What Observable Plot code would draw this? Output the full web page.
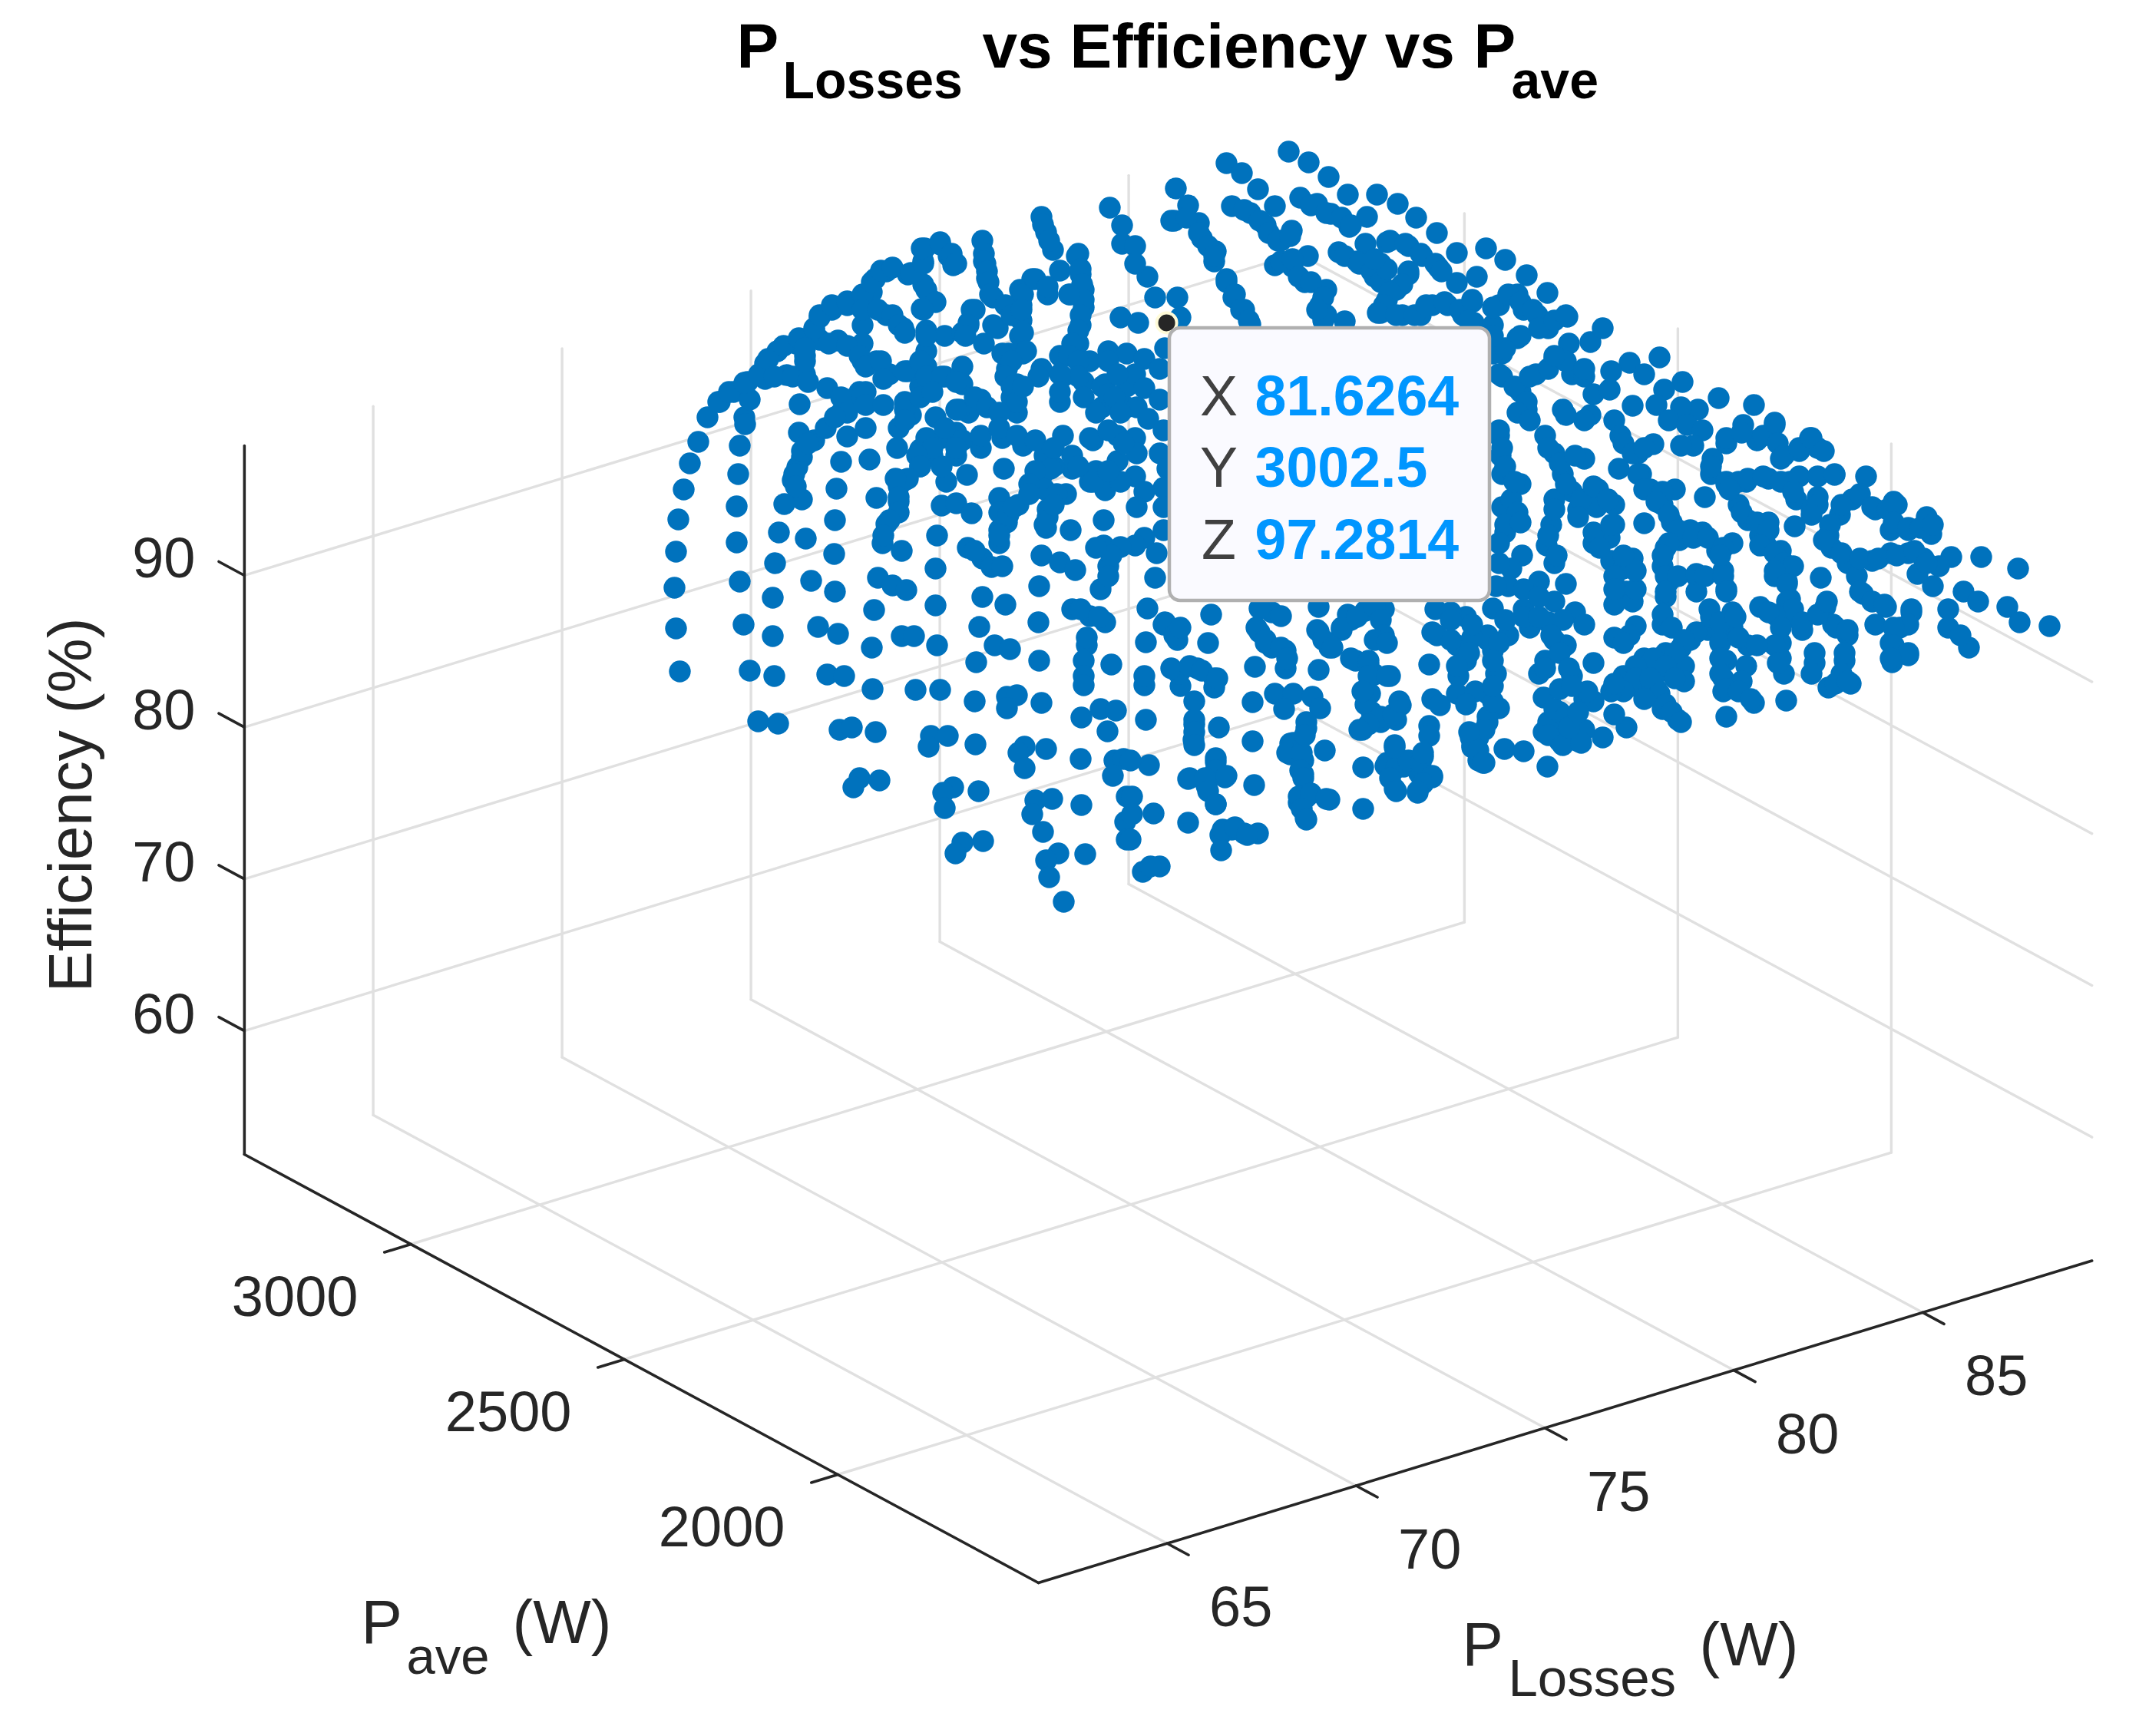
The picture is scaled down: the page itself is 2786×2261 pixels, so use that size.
<!DOCTYPE html>
<html><head><meta charset="utf-8">
<style>html,body{margin:0;padding:0;background:#fff}svg{display:block}</style>
<script src="https://cdn.jsdelivr.net/npm/d3@7"></script>
<script src="https://cdn.jsdelivr.net/npm/@observablehq/plot@0.6"></script>
</head><body><div id="chart"></div>
<script>
// Axis ranges and ticks of the 3-D box
const lossRange=[61.59,89.48], aveRange=[1530,3390], effRange=[51.86,98.55];
const lossTicks=[65,70,75,80,85], aveTicks=[2000,2500,3000], effTicks=[60,70,80,90];
// The selected sample of the data tip
const tipLoss=81.6264, tipAve=3002.5, tipEff=97.2814;
// Samples as read in the view plane of the 3-D box (horizontal, vertical)
const viewNorthWest=[[1445,270],[1461,293],[1461,317],[1356,282],[1362,302],[1371,325],[1402,333],[1380,352],[1407,357],[1394,383],[1411,377],[1411,400],[1407,423],[1279,313],[1281,330],[1283,343],[1285,362],[1224,318],[1204,323],[1235,333],[1241,345],[1202,340],[1154,353],[1182,357],[1139,363],[1202,370],[1212,390],[1200,402],[1135,380],[1103,397],[1083,403],[1067,413],[1060,430],[1127,400],[1123,423],[1154,410],[1176,427],[1123,447],[1091,443],[1067,442],[1036,447],[1012,457],[996,473],[1048,463],[1048,487],[1123,470],[1141,470],[1024,488],[996,493],[973,497],[955,510],[937,523],[921,543],[1077,505],[1041,526],[969,543],[976,520],[1344,363],[1328,377],[1364,383],[1330,397],[1330,417],[1293,387],[1269,403],[1261,420],[1299,427],[1328,437],[1332,460],[1206,430],[1230,437],[1253,433],[1281,447],[1313,460],[1206,457],[1253,477],[1206,477],[1182,483],[1158,487],[1311,480],[1253,500],[1230,490],[1198,503],[1119,510],[1103,520],[1095,537],[1178,523],[1186,540],[1404,447],[1443,457],[1419,470],[1380,463],[1356,480],[1324,500],[1317,517],[1324,537],[1277,520],[1261,537],[1249,533],[1218,543],[1384,490],[1411,497],[1439,500],[1435,530],[1380,523],[1467,503],[1467,460],[1459,413],[1467,530]];
const viewNorth=[[1678,197],[1704,211],[1730,230],[1755,253],[1793,253],[1820,265],[1844,283],[1871,303],[1597,212],[1617,225],[1638,246],[1531,245],[1547,267],[1525,287],[1561,290],[1565,310],[1583,327],[1581,340],[1604,268],[1628,277],[1660,268],[1648,293],[1682,300],[1668,313],[1693,257],[1715,265],[1733,278],[1757,295],[1780,282],[1778,317],[1806,315],[1743,328],[1767,340],[1834,320],[1852,333],[1873,348],[1897,329],[1798,343],[1834,357],[1790,360],[1897,368],[1923,360],[1935,323],[1960,338],[1988,358],[2015,381],[1976,383],[1952,397],[1984,403],[2002,410],[2041,412],[2016,427],[2043,447],[2071,445],[2087,427],[1660,345],[1703,333],[1683,347],[1699,367],[1727,377],[1719,397],[1723,417],[1751,418],[1597,363],[1606,387],[1620,403],[1628,422],[1818,377],[1806,390],[1798,407],[1826,410],[1850,410],[1865,397],[1885,397],[1917,393],[1905,410],[1919,420],[1944,423],[1976,440],[1956,460],[1956,490],[1980,510],[1988,533],[2024,467],[2047,487],[2063,490],[2000,487],[2075,513],[2035,533],[2071,540],[1482,420],[1504,387],[1533,387],[1537,413],[1478,320],[1494,360],[1517,453],[1478,343],[1490,467],[1478,487],[1510,480],[1490,505],[1510,520],[1480,530],[1495,545],[1515,560],[1478,570],[1480,590],[1510,590],[1520,610],[1478,620],[1515,635],[1490,640],[1515,660],[1480,660],[1515,690],[1490,700],[1478,710]];
const viewWest=[[909,575],[898,603],[890,637],[883,676],[880,718],[878,765],[880,818],[885,874],[970,552],[963,580],[961,617],[959,659],[959,706],[963,757],[968,813],[976,873],[1040,563],[1060,573],[1044,595],[1038,608],[1032,625],[1044,650],[1021,656],[1014,693],[1049,701],[1009,733],[1056,756],[1006,778],[1006,828],[1065,816],[1091,825],[1008,880],[1077,878],[1099,880],[1103,568],[1095,601],[1089,636],[1087,677],[1086,721],[1087,770],[1132,598],[1141,648],[1127,557],[1075,557],[1143,752],[1162,762],[1180,768],[1138,794],[1135,843],[1174,828],[1190,828],[1220,840],[1149,707],[1174,717],[1154,682],[1170,653],[1170,633],[1178,625],[1198,585],[1168,583],[1170,557],[1198,607],[1220,697],[1218,740],[1218,788],[1226,658],[1245,655],[1265,668],[1232,627],[1259,618],[1260,713],[1279,727],[1291,738],[1305,737],[1279,777],[1309,787],[1275,816],[1353,763],[1352,810],[1295,840],[1315,845],[1271,862],[1353,860],[1301,648],[1326,657],[1307,610],[1311,680],[1301,707],[1301,690],[1364,663],[1362,687],[1372,650],[1394,690],[1356,723],[1380,732],[1400,742],[1437,677],[1443,737],[1433,767],[1437,710],[1459,712],[1396,793],[1419,802],[1439,810],[1415,840],[1411,860],[1447,865],[1411,880],[1206,583],[1226,570],[1245,563],[1277,583],[1305,570],[1332,580],[1360,593],[1356,620],[1388,643],[1384,567],[1423,573],[1455,567],[1419,627],[1439,638],[1396,610],[1427,613],[1459,627],[1372,607],[1214,593],[1245,593],[1226,607],[1455,600]];
const viewSouthWest=[[1136,897],[1192,898],[1224,898],[1269,913],[1311,907],[1324,905],[1311,922],[1356,915],[1411,892],[1408,934],[1433,923],[1453,925],[1442,952],[987,939],[1013,942],[1093,950],[1109,947],[1140,953],[1212,958],[1234,958],[1209,972],[1270,969],[1334,972],[1362,975],[1326,980],[1334,1000],[1407,988],[1451,990],[1463,988],[1449,1010],[1119,1013],[1145,1016],[1111,1025],[1241,1025],[1228,1032],[1230,1052],[1274,1030],[1348,1042],[1370,1040],[1344,1060],[1408,1048],[1358,1083],[1253,1097],[1280,1095],[1244,1111],[1378,1111],[1362,1120],[1366,1142],[1413,1112],[1385,1174],[1467,1037],[1465,1070],[1467,1093]];
const viewSouth=[[1490,892],[1537,893],[1581,895],[1555,913],[1631,914],[1660,903],[1684,903],[1672,923],[1709,907],[1719,922],[1492,937],[1555,943],[1554,963],[1587,947],[1631,965],[1701,948],[1680,968],[1680,982],[1697,990],[1697,1008],[1725,977],[1784,903],[1824,918],[1786,927],[1774,950],[1798,940],[1818,937],[1865,910],[1875,918],[1861,945],[1861,958],[1909,910],[1937,903],[1952,922],[1937,940],[1925,960],[1915,960],[1925,990],[1933,993],[1917,973],[1816,970],[1804,997],[1828,998],[1775,999],[1853,985],[1865,1012],[1848,1007],[1816,1027],[1846,1032],[1775,1053],[1959,975],[1984,978],[2015,998],[2010,908],[2031,927],[2010,953],[2031,965],[2055,965],[2039,950],[2063,910],[2087,960],[2051,950],[1496,996],[1472,990],[1583,992],[1547,1014],[1571,1023],[1595,1012],[1583,1047],[1633,1022],[1701,1038],[1691,1045],[1731,1041],[1700,1065],[1502,1059],[1474,1037],[1474,1060],[1472,1093],[1547,1071],[1589,1087],[1604,1080],[1638,1085],[1590,1107],[1620,1085],[1488,1135],[1510,1128],[1498,1128]];
const viewCentre=[[1494,792],[1529,820],[1515,813],[1533,833],[1492,836],[1573,837],[1504,752],[1506,720],[1577,800],[1656,797],[1640,792],[1668,802],[1717,790],[1759,807],[1747,820],[1778,795],[1802,793],[1800,833],[1640,823],[1648,837],[1674,847],[1656,843],[1634,868],[1674,870],[1717,822],[1731,843],[1717,872],[1765,860],[1782,865],[1810,880],[1861,865],[1790,878],[1490,880],[1535,877],[1559,870],[1581,883],[1869,793],[1909,803],[1944,792],[1889,797],[1871,827],[1897,840],[1937,833],[1964,827],[1909,860],[1944,847],[1948,877],[1899,880],[1992,817],[2004,757],[1984,793],[2024,783],[2051,797],[2016,810],[2024,833],[2039,840],[2012,860],[2004,877],[2047,880],[2075,863],[1982,723],[1968,740],[1952,733],[1964,763],[1948,763],[1952,567],[1954,593],[1956,617],[1980,630],[1956,660],[1976,677],[1960,693],[2012,567],[2024,590],[2063,597],[2035,617],[2047,640],[2024,650],[2020,683],[2014,710],[2024,733],[2055,663],[2081,637],[2079,660],[2075,707],[2039,760]];
const viewEast=[[2161,465],[2122,472],[2141,487],[2098,483],[2096,507],[2191,497],[2167,507],[2157,527],[2238,518],[2211,533],[2189,530],[2173,547],[2284,527],[2126,528],[2102,547],[2110,567],[2197,553],[2217,560],[2205,580],[2189,580],[2153,578],[2133,590],[2108,610],[2137,617],[2149,637],[2181,637],[2165,657],[2177,680],[2141,681],[2270,553],[2311,553],[2248,577],[2288,573],[2230,597],[2228,617],[2319,597],[2343,587],[2357,570],[2367,583],[2389,618],[2430,620],[2303,623],[2331,627],[2274,627],[2248,630],[2220,647],[2339,650],[2367,647],[2359,663],[2412,650],[2396,670],[2466,653],[2442,663],[2337,685],[2264,657],[2276,677],[2303,680],[2292,697],[2300,710],[2381,697],[2385,713],[2406,733],[2462,690],[2485,690],[2509,673],[2515,695],[2485,720],[2438,730],[2462,720],[2505,727],[2541,725],[2525,737],[2580,725],[2628,740],[2517,763],[2497,747],[2418,750],[2426,773],[2456,790],[2489,797],[2442,813],[2474,817],[2462,837],[2485,853],[2464,862],[2557,770],[2576,783],[2537,793],[2537,817],[2564,843],[2553,827],[2614,790],[2630,810],[2669,815],[2327,737],[2319,717],[2311,750],[2371,752],[2331,780],[2327,757],[2292,790],[2335,803],[2315,803],[2377,790],[2387,813],[2406,827],[2347,820],[2319,837],[2323,877],[2319,857],[2363,863],[2363,850],[2359,877],[2402,860],[2410,890],[2381,895],[2326,912],[2248,933],[2256,707],[2236,717],[2217,693],[2201,690],[2187,703],[2169,713],[2165,737],[2209,750],[2209,770],[2244,743],[2248,767],[2173,757],[2169,777],[2165,813],[2130,815],[2226,793],[2256,797],[2224,820],[2256,817],[2276,840],[2240,837],[2201,833],[2189,843],[2169,850],[2141,857],[2193,867],[2193,887],[2165,873],[2137,880],[2114,880],[2157,897],[2130,893],[2248,860],[2274,867],[2244,883],[2268,887],[2244,900],[2284,915],[2185,937],[2165,923],[2122,827],[2102,830],[2114,837],[2098,730],[2126,727],[2114,740],[2102,750],[2118,770],[2102,787],[2126,783],[2102,683],[2102,657],[2096,700],[2118,947],[2102,930]];
// Further samples in the crowded bands
const denseNorthWest=[[935,523],[949,510],[969,498],[988,487],[1000,467],[1020,450],[1040,440],[1060,427],[1067,410],[1083,397],[1103,392],[1123,383],[1135,367],[1147,352],[1162,348],[1186,355],[1202,343],[1200,323],[1224,315],[1239,330],[1245,343],[1008,490],[1032,490],[1052,497],[1048,470],[1048,453],[1079,447],[1103,450],[1119,463],[1127,477],[1147,470],[1123,403],[1143,403],[1162,410],[1170,423],[1178,433],[1206,377],[1218,393],[1202,403],[1281,340],[1285,353],[1287,367],[1358,292],[1366,313],[1404,330],[1407,350],[1409,370],[1411,390],[1407,410],[1404,430],[1396,447],[1392,463],[1392,383],[1289,383],[1309,397],[1265,403],[1261,423],[1293,423],[1317,410],[1332,383],[1348,363],[1364,373],[1330,403],[1332,433],[1336,457],[1206,437],[1257,437],[1305,460],[1317,470],[1309,490],[1317,503],[1324,523],[1095,517],[1127,510],[1150,493],[1178,483],[1198,470],[1206,490],[1226,490],[1245,497],[1103,537],[1127,527],[1150,527],[1178,533],[1198,517],[1214,510],[1245,533],[1269,517],[1285,530],[1301,537],[1087,543],[1178,547],[1404,470],[1443,470],[1404,490],[1380,487],[1352,490],[1332,503],[1435,503],[1455,487],[1443,513],[1380,510],[1411,517],[1427,537],[1451,517],[1459,537]];
const denseWest=[[1206,570],[1230,557],[1253,573],[1277,567],[1301,557],[1324,567],[1348,573],[1368,610],[1348,613],[1372,583],[1396,593],[1419,570],[1443,560],[1463,577],[1404,607],[1423,627],[1443,613],[1360,637],[1376,643],[1340,630],[1214,583],[1245,583],[1194,593],[1198,607],[1182,623],[1166,623],[1170,647],[1170,667],[1158,677],[1150,697],[1364,673],[1360,683],[1372,657],[1301,667],[1313,670],[1301,697],[1340,643],[1320,660],[1044,587],[1034,617],[1036,633],[1052,577],[1447,723],[1443,750],[1427,713],[1407,793],[1431,803],[1415,830],[1269,717]];
const denseNorth=[[1529,287],[1545,283],[1561,303],[1573,320],[1581,333],[1620,273],[1640,287],[1652,303],[1664,313],[1680,307],[1668,340],[1683,337],[1691,360],[1707,367],[1723,387],[1727,410],[1715,403],[1597,367],[1608,383],[1616,403],[1626,417],[1707,267],[1727,277],[1747,283],[1759,293],[1751,333],[1770,343],[1786,353],[1798,367],[1806,350],[1790,337],[1810,313],[1830,317],[1850,330],[1869,343],[1877,353],[1834,353],[1826,370],[1810,380],[1802,397],[1794,407],[1818,410],[1842,410],[1857,397],[1881,393],[1901,403],[1917,390],[1913,417],[1944,400],[1964,383],[1980,393],[1996,403],[2004,427],[2024,417],[2039,410],[1944,460],[1960,453],[1980,437],[1952,487],[1972,503],[1988,523],[2016,480],[2039,470],[2063,480],[2024,463],[1992,490],[1944,437],[1976,537],[1992,547],[2063,547],[2039,540]];
const denseCentre=[[1968,650],[1976,667],[1960,683],[1980,680],[1952,707],[1952,560],[1956,583],[1960,607],[1972,627],[2016,583],[2031,603],[2051,593],[2039,630],[2059,650],[2055,673],[2024,663],[2016,697],[2027,723],[2075,633],[2075,693],[2083,713],[1984,767],[2004,777],[1984,803],[1960,807],[1937,827],[1917,830],[1889,833],[1865,823],[1913,850],[1897,867],[1952,837],[1944,860],[2004,803],[2035,807],[2063,813],[2020,827],[2031,850],[2012,870],[2043,870],[1889,807],[1917,813],[1636,817],[1648,833],[1668,843],[1676,857],[1525,870],[1549,867],[1565,873],[1585,883],[1517,810],[1529,827],[1537,817],[1755,800],[1747,817],[1767,803],[1790,790],[1798,807],[1802,827],[1790,833],[1806,837],[1715,820],[1723,833],[1735,843],[1759,857],[1782,860],[1782,880],[1806,880]];
const denseEast=[[2114,577],[2126,590],[2141,583],[2133,617],[2141,637],[2165,640],[2157,653],[2173,670],[2185,690],[2205,700],[2224,700],[2244,713],[2173,707],[2165,723],[2169,750],[2185,750],[2209,747],[2220,750],[2240,723],[2244,750],[2248,770],[2169,770],[2165,800],[2177,817],[2248,570],[2268,563],[2296,567],[2311,550],[2315,577],[2323,593],[2343,583],[2359,570],[2375,587],[2228,607],[2248,627],[2264,627],[2276,623],[2296,620],[2319,627],[2343,620],[2367,620],[2389,617],[2335,640],[2367,657],[2359,670],[2252,637],[2268,667],[2288,680],[2303,690],[2292,710],[2311,720],[2323,733],[2335,737],[2311,743],[2327,760],[2383,683],[2375,703],[2398,720],[2422,727],[2446,727],[2470,723],[2493,717],[2509,733],[2398,657],[2422,643],[2438,660],[2458,663],[2470,657],[2466,680],[2485,687],[2501,687],[2517,683],[2422,770],[2438,783],[2454,787],[2489,793],[2485,813],[2466,817],[2466,840],[2485,850],[2462,857],[2327,783],[2335,793],[2311,800],[2303,797],[2319,817],[2347,810],[2367,800],[2379,783],[2391,817],[2406,820],[2311,840],[2315,863],[2402,850],[2398,877],[2390,890],[2406,887],[2209,823],[2193,833],[2181,850],[2153,857],[2130,867],[2169,867],[2130,883],[2181,883],[2149,883],[2161,903],[2141,910],[2169,917],[2177,927],[2189,940],[2228,803],[2240,810],[2260,803],[2264,830],[2288,840],[2240,857],[2240,877],[2248,897],[2264,900],[2280,910],[2114,900],[2098,900],[2102,890],[2102,767],[2130,767],[2130,743],[2114,723],[2098,683],[2094,650]];
const denseSouth=[[1937,933],[1944,913],[1933,950],[1917,970],[1913,953],[1925,977],[1931,993],[1897,903],[1921,900],[1909,917],[1944,893],[2016,940],[2024,923],[2039,933],[2016,957],[2035,970],[2063,950],[2059,967],[2043,947],[2075,913],[2055,927],[2067,900],[2031,897],[2047,893],[1778,917],[1774,900],[1798,933],[1814,930],[1822,913],[1782,943],[1770,950],[1806,993],[1818,1000],[1834,990],[1850,993],[1865,1010],[1853,1020],[1846,1030],[1810,1013],[1818,1030],[1816,973],[1853,980],[1684,967],[1676,980],[1695,980],[1701,940],[1699,957],[1693,1003],[1697,1013],[1691,1037],[1707,1033],[1727,1040],[1695,1053],[1701,1067],[1555,937],[1555,953],[1555,970],[1583,987],[1583,1003],[1549,1013],[1569,1013],[1597,1010],[1573,1030],[1583,1047],[1592,1080],[1608,1077],[1624,1087]];

const P=d=>({u:1352+49.2*(d[0]-lossRange[0])-0.556*(d[1]-aveRange[0]),
  v:2061-15.04*(d[0]-lossRange[0])-0.3*(d[1]-aveRange[0])-19.77*(d[2]-effRange[0])});
const seg=(a,b,o)=>Plot.line([a,b].map(P),{x:"u",y:"v",...o});
const [xa,xb]=lossRange,[ya,yb]=aveRange,[za,zb]=effRange;
const grid={stroke:"#e0e0e0",strokeWidth:3.4};
const axis={stroke:"#262626",strokeWidth:3.6};
const gridMarks=[];
for(const x of lossTicks){gridMarks.push(seg([x,ya,za],[x,yb,za],grid),seg([x,yb,za],[x,yb,zb],grid));}
for(const y of aveTicks){gridMarks.push(seg([xa,y,za],[xb,y,za],grid),seg([xb,y,za],[xb,y,zb],grid));}
for(const z of effTicks){gridMarks.push(seg([xa,yb,z],[xb,yb,z],grid),seg([xb,yb,z],[xb,ya,z],grid));}
const tickMarks=[];
for(const x of lossTicks)tickMarks.push(seg([x,ya,za],[x,ya-50,za],axis));
for(const y of aveTicks)tickMarks.push(seg([xa,y,za],[xa-0.7,y,za],axis));
for(const z of effTicks)tickMarks.push(seg([xa,yb,z],[xa,yb+60,z],axis));

const font="Liberation Sans", ink="#262626";
const label=(t,u,v,size,o={})=>Plot.text([t],{x:()=>u,y:()=>v,text:d=>d,fontSize:size,fontFamily:font,fill:ink,textAnchor:"start",lineAnchor:"bottom",...o});
const tickLabels=(vals,pt,dx,dy)=>Plot.text(vals.map(t=>({t:String(t),...P(pt(t))})),{x:"u",y:"v",text:"t",dx,dy,fontSize:74,fontFamily:font,fill:ink,textAnchor:"middle",lineAnchor:"bottom"});
const dots=[...viewNorthWest,...viewNorth,...viewWest,...viewSouthWest,...viewSouth,...viewCentre,...viewEast,...denseNorthWest,...denseWest,...denseNorth,...denseCentre,...denseEast,...denseSouth];
const tipPoint=P([tipLoss,tipAve,tipEff]);
const tipFont={fontSize:73.5,fontFamily:font};
const tipRows=[["X",tipLoss.toFixed(4),540],["Y",tipAve.toFixed(1),633],["Z",tipEff.toFixed(4),727]];
const bold={fontWeight:700,fill:"#000"};

const chart=Plot.plot({
  width:2786,height:2261,margin:0,
  x:{domain:[0,2786],range:[0,2786],axis:null},
  y:{domain:[0,2261],range:[0,2261],axis:null},
  style:{background:"#fff"},
  marks:[
    ...gridMarks,
    seg([xa,yb,za],[xa,ya,za],axis),seg([xa,ya,za],[xb,ya,za],axis),seg([xa,yb,za],[xa,yb,zb],axis),
    ...tickMarks,
    tickLabels(aveTicks,t=>[xa,t,za],-151,93),
    tickLabels(lossTicks,t=>[t,ya,za],96,108),
    tickLabels(effTicks,t=>[xa,yb,t],-105,3),
    Plot.dot(dots,{x:d=>d[0],y:d=>d[1],r:14.2,fill:"#0072BD",stroke:null}),
    Plot.dot([tipPoint],{x:"u",y:"v",r:13,fill:"#262626",stroke:"#fffbd8",strokeWidth:4}),
    Plot.rect([0],{x1:()=>1523,x2:()=>1940,y1:()=>427,y2:()=>782,fill:"#fafaff",stroke:"#b0b0b0",strokeWidth:4.5,rx:14}),
    ...tipRows.flatMap(r=>[
      Plot.text([r[0]],{x:()=>1587,y:()=>r[2],text:d=>d,...tipFont,fill:"#404040",textAnchor:"middle",lineAnchor:"bottom"}),
      Plot.text([r[1]],{x:()=>1634,y:()=>r[2],text:d=>d,...tipFont,fontWeight:700,fill:"#0096ff",textAnchor:"start",lineAnchor:"bottom"})
    ]),
    label("P",959,87,82,bold),
    label("Losses",1019,127,68,bold),
    label("vs Efficiency vs",1279,87,82,bold),
    label("P",1919,87,82,bold),
    label("ave",1968,127,68,bold),
    label("P",470,2139,80),label("ave",529,2179,67),label("(W)",667,2139,80),
    label("P",1904,2168,80),label("Losses",1964,2208,69),label("(W)",2213,2168,80),
    Plot.text(["Efficiency (%)"],{x:()=>118,y:()=>1048,text:d=>d,rotate:-90,fontSize:80,fontFamily:font,fill:ink,textAnchor:"middle",lineAnchor:"bottom"})
  ]
});
document.getElementById("chart").append(chart);
</script></body></html>
